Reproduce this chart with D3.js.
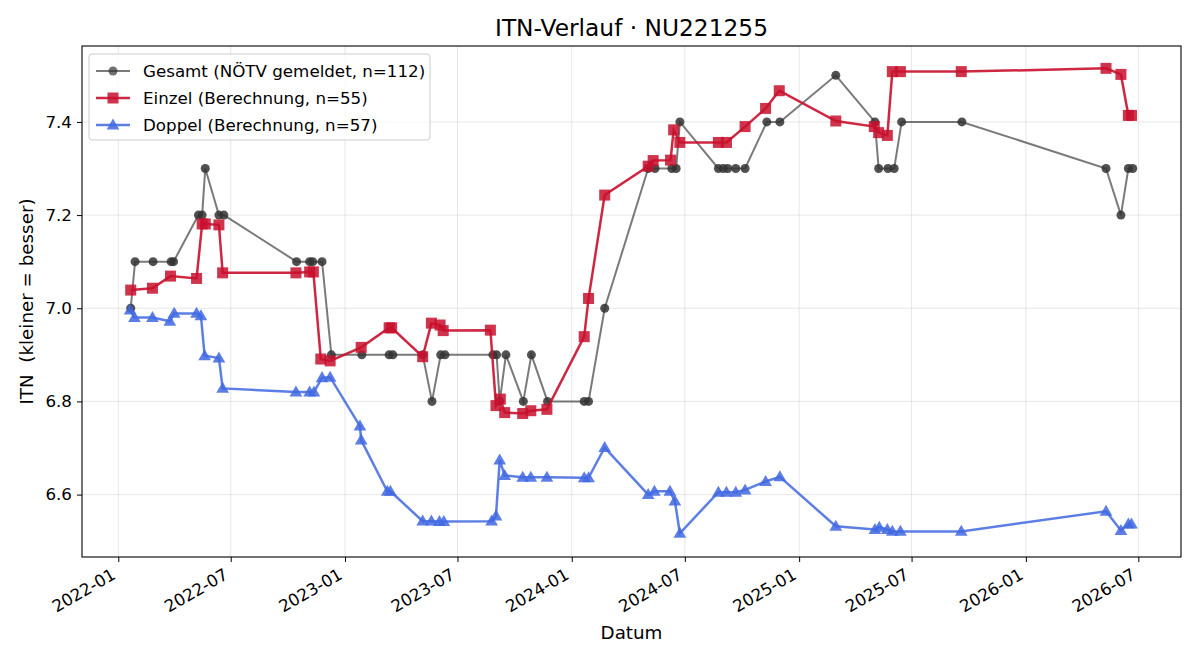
<!DOCTYPE html>
<html><head><meta charset="utf-8">
<script src="https://cdn.jsdelivr.net/npm/d3@7"></script>
<style>
html,body{margin:0;padding:0;background:#fff;}
text{font-family:"DejaVu Sans",sans-serif;}
</style></head>
<body><svg id="chart" width="1200" height="660"></svg>
<script>
const titleText = "ITN-Verlauf · NU221255";
const xLabel = "Datum";
const yLabel = "ITN  (kleiner = besser)";
const yTicks = [6.6, 6.8, 7.0, 7.2, 7.4];
const xTickDates = ["2022-01-01","2022-07-01","2023-01-01","2023-07-01","2024-01-01","2024-07-01","2025-01-01","2025-07-01","2026-01-01","2026-07-01"];
const legendLabels = ["Gesamt (NÖTV gemeldet, n=112)", "Einzel (Berechnung, n=55)", "Doppel (Berechnung, n=57)"];

const gesamtDates = ["2022-01-21","2022-01-28","2022-02-26","2022-03-27","2022-03-31","2022-05-10","2022-05-16","2022-05-21","2022-06-12","2022-06-20","2022-10-15","2022-11-05","2022-11-10","2022-11-25","2022-12-10","2023-01-28","2023-03-13","2023-03-19","2023-05-06","2023-05-21","2023-06-04","2023-06-11","2023-08-27","2023-09-02","2023-09-07","2023-09-17","2023-10-15","2023-10-28","2023-11-23","2024-01-21","2024-01-28","2024-02-23","2024-05-03","2024-05-14","2024-06-10","2024-06-17","2024-06-23","2024-08-24","2024-09-01","2024-09-08","2024-09-21","2024-10-06","2024-11-10","2024-12-01","2025-03-01","2025-05-03","2025-05-09","2025-05-24","2025-06-03","2025-06-15","2025-09-20","2026-05-10","2026-06-03","2026-06-15","2026-06-22"];
const gesamtValues = [7.0,7.1,7.1,7.1,7.1,7.2,7.2,7.3,7.2,7.2,7.1,7.1,7.1,7.1,6.9,6.9,6.9,6.9,6.9,6.8,6.9,6.9,6.9,6.9,6.8,6.9,6.8,6.9,6.8,6.8,6.8,7.0,7.3,7.3,7.3,7.3,7.4,7.3,7.3,7.3,7.3,7.3,7.4,7.4,7.5,7.4,7.3,7.3,7.3,7.4,7.4,7.3,7.2,7.3,7.3];

const einzelDates = ["2022-01-21","2022-02-25","2022-03-26","2022-05-07","2022-05-16","2022-05-21","2022-06-12","2022-06-18","2022-10-14","2022-11-05","2022-11-11","2022-11-23","2022-12-08","2023-01-27","2023-03-13","2023-03-17","2023-05-06","2023-05-20","2023-06-03","2023-06-08","2023-08-23","2023-09-01","2023-09-08","2023-09-15","2023-10-14","2023-10-27","2023-11-22","2024-01-21","2024-01-28","2024-02-23","2024-05-03","2024-05-11","2024-06-08","2024-06-13","2024-06-23","2024-08-24","2024-09-06","2024-10-06","2024-11-08","2024-11-30","2025-03-01","2025-05-02","2025-05-09","2025-05-23","2025-05-31","2025-06-13","2025-09-19","2026-05-10","2026-06-03","2026-06-15","2026-06-20"];
const einzelValues = [7.039,7.043,7.069,7.064,7.181,7.181,7.179,7.076,7.076,7.078,7.078,6.891,6.887,6.916,6.958,6.958,6.896,6.968,6.964,6.952,6.953,6.791,6.805,6.776,6.774,6.780,6.783,6.939,7.021,7.243,7.305,7.317,7.318,7.383,7.356,7.356,7.356,7.390,7.429,7.467,7.402,7.390,7.377,7.371,7.508,7.508,7.508,7.515,7.502,7.414,7.414];

const doppelDates = ["2022-01-20","2022-01-27","2022-02-25","2022-03-25","2022-04-01","2022-05-07","2022-05-14","2022-05-20","2022-06-12","2022-06-18","2022-10-14","2022-11-05","2022-11-12","2022-11-25","2022-12-08","2023-01-25","2023-01-27","2023-03-10","2023-03-15","2023-05-06","2023-05-20","2023-06-02","2023-06-09","2023-08-25","2023-09-01","2023-09-07","2023-09-15","2023-10-14","2023-10-27","2023-11-22","2024-01-21","2024-01-28","2024-02-23","2024-05-03","2024-05-13","2024-06-07","2024-06-15","2024-06-23","2024-08-24","2024-09-06","2024-09-21","2024-10-06","2024-11-08","2024-12-01","2025-03-01","2025-05-03","2025-05-10","2025-05-23","2025-05-31","2025-06-13","2025-09-19","2026-05-10","2026-06-03","2026-06-15","2026-06-20"];
const doppelValues = [6.996,6.980,6.980,6.972,6.989,6.989,6.984,6.898,6.893,6.828,6.820,6.820,6.820,6.851,6.852,6.747,6.717,6.607,6.607,6.543,6.543,6.542,6.542,6.543,6.554,6.674,6.641,6.637,6.637,6.637,6.636,6.636,6.701,6.600,6.607,6.607,6.586,6.517,6.605,6.605,6.605,6.610,6.628,6.638,6.532,6.525,6.530,6.525,6.521,6.521,6.521,6.564,6.523,6.537,6.537];

const parse = d3.utcParse("%Y-%m-%d");
const svg = d3.select("#chart");
const M = {left: 82, right: 1181, top: 46, bottom: 557};

const x = d3.scaleUtc()
  .domain([new Date(Date.UTC(2021,10,3,14)), new Date(Date.UTC(2026,8,7,17))])
  .range([M.left, M.right]);
const y = d3.scaleLinear().domain([6.466, 7.563]).range([M.bottom, M.top]);

// grid
const grid = svg.append("g");
grid.selectAll("line.gx").data(xTickDates.map(parse)).enter().append("line")
  .attr("x1", d => x(d)).attr("x2", d => x(d)).attr("y1", M.top).attr("y2", M.bottom)
  .attr("stroke", "#b0b0b0").attr("stroke-opacity", 0.3).attr("stroke-width", 1);
grid.selectAll("line.gy").data(yTicks).enter().append("line")
  .attr("x1", M.left).attr("x2", M.right).attr("y1", d => y(d)).attr("y2", d => y(d))
  .attr("stroke", "#b0b0b0").attr("stroke-opacity", 0.3).attr("stroke-width", 1);

// axes
const xAxis = svg.append("g").attr("transform", `translate(0,${M.bottom})`)
  .call(d3.axisBottom(x).tickValues(xTickDates.map(parse)).tickFormat(d3.utcFormat("%Y-%m")).tickSizeOuter(0).tickSize(5));
xAxis.select(".domain").remove();
xAxis.selectAll(".tick line").attr("stroke", "#000").attr("stroke-width", 1);
xAxis.selectAll(".tick text")
  .attr("font-size", 16.7).attr("fill", "#000")
  .attr("text-anchor", "end").attr("x", 0).attr("y", 0).attr("dy", 0)
  .attr("transform", "translate(-2,21) rotate(-30)");

const yAxis = svg.append("g").attr("transform", `translate(${M.left},0)`)
  .call(d3.axisLeft(y).tickValues(yTicks).tickFormat(d3.format(".1f")).tickSizeOuter(0).tickSize(5).tickPadding(5));
yAxis.select(".domain").remove();
yAxis.selectAll("text").attr("font-size", 16.7).attr("fill", "#000");
yAxis.selectAll(".tick line").attr("stroke", "#000").attr("stroke-width", 1);

svg.append("rect").attr("x", M.left).attr("y", M.top)
  .attr("width", M.right - M.left).attr("height", M.bottom - M.top)
  .attr("fill", "none").attr("stroke", "#000").attr("stroke-width", 1.1);

// series
function series(dates, values) { return dates.map((d, i) => ({d: parse(d), v: values[i]})); }
const line = d3.line().x(p => x(p.d)).y(p => y(p.v));

const gData = series(gesamtDates, gesamtValues);
const eData = series(einzelDates, einzelValues);
const dData = series(doppelDates, doppelValues);

const plot = svg.append("g");
plot.append("path").datum(gData).attr("d", line).attr("fill", "none")
  .attr("stroke", "#333333").attr("stroke-opacity", 0.65).attr("stroke-width", 2);
plot.selectAll("circle.g").data(gData).enter().append("circle")
  .attr("cx", p => x(p.d)).attr("cy", p => y(p.v)).attr("r", 4.5)
  .attr("fill", "#333333").attr("fill-opacity", 0.85);

plot.append("path").datum(eData).attr("d", line).attr("fill", "none")
  .attr("stroke", "#c8102e").attr("stroke-opacity", 0.9).attr("stroke-width", 2.5);
plot.selectAll("rect.e").data(eData).enter().append("rect")
  .attr("x", p => x(p.d) - 5.5).attr("y", p => y(p.v) - 5.5).attr("width", 11).attr("height", 11)
  .attr("fill", "#c8102e").attr("fill-opacity", 0.85);

plot.append("path").datum(dData).attr("d", line).attr("fill", "none")
  .attr("stroke", "#4169e1").attr("stroke-opacity", 0.85).attr("stroke-width", 2.5);
const tri = d3.symbol().type(d3.symbolTriangle).size(70);
plot.selectAll("path.d").data(dData).enter().append("path")
  .attr("d", tri).attr("transform", p => `translate(${x(p.d)},${y(p.v) + 0.8})`)
  .attr("fill", "#4169e1").attr("fill-opacity", 0.85);

// labels
svg.append("text").attr("x", (M.left + M.right) / 2).attr("y", 36).attr("text-anchor", "middle")
  .attr("font-size", 23.3).text(titleText);
svg.append("text").attr("x", (M.left + M.right) / 2).attr("y", 639).attr("text-anchor", "middle")
  .attr("font-size", 18.3).text(xLabel);
svg.append("text").attr("transform", `translate(33,${(M.top + M.bottom) / 2}) rotate(-90)`)
  .attr("text-anchor", "middle").attr("font-size", 18.3).style("white-space", "pre").text(yLabel);

// legend
const lg = svg.append("g");
lg.append("rect").attr("x", 89).attr("y", 54).attr("width", 341).attr("height", 86).attr("rx", 3)
  .attr("fill", "#fff").attr("fill-opacity", 0.8).attr("stroke", "#cccccc").attr("stroke-width", 1);
const rowsY = [71, 98, 125];
const styles = [
  {c: "#333333", lo: 0.65, w: 2, m: "circle"},
  {c: "#c8102e", lo: 0.9, w: 2.5, m: "square"},
  {c: "#4169e1", lo: 0.85, w: 2.5, m: "triangle"}
];
legendLabels.forEach((t, i) => {
  const s = styles[i], yy = rowsY[i];
  lg.append("line").attr("x1", 96).attr("x2", 130).attr("y1", yy).attr("y2", yy)
    .attr("stroke", s.c).attr("stroke-opacity", s.lo).attr("stroke-width", s.w);
  if (s.m === "circle") lg.append("circle").attr("cx", 113).attr("cy", yy).attr("r", 4.5).attr("fill", s.c).attr("fill-opacity", 0.7);
  if (s.m === "square") lg.append("rect").attr("x", 107.5).attr("y", yy - 5.5).attr("width", 11).attr("height", 11).attr("fill", s.c).attr("fill-opacity", 0.85);
  if (s.m === "triangle") lg.append("path").attr("d", tri).attr("transform", `translate(113,${yy + 0.8})`).attr("fill", s.c).attr("fill-opacity", 0.85);
  lg.append("text").attr("x", 143).attr("y", yy).attr("dy", "0.35em").attr("font-size", 16.7).text(t);
});
</script></body></html>
